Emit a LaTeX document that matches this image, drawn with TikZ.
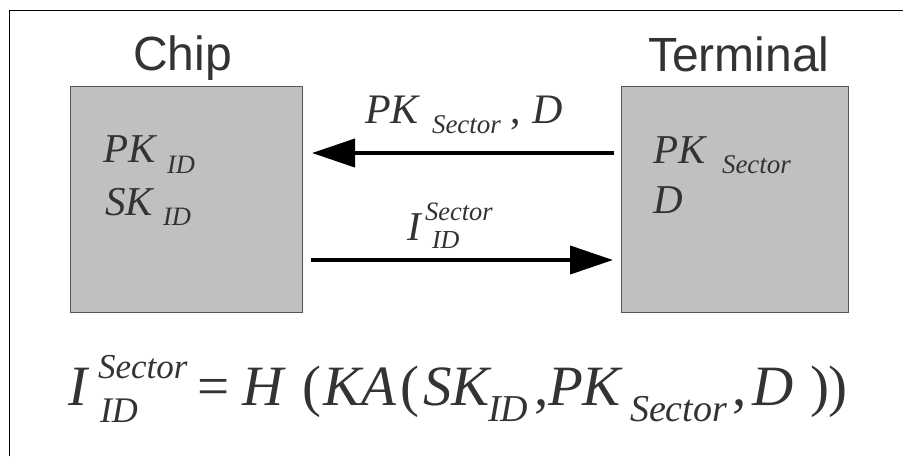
\documentclass[tikz,border=0pt]{standalone}
\usepackage{fontspec}
\setmainfont{Liberation Serif}
\newfontfamily\labelsans{Liberation Sans}
\usetikzlibrary{arrows.meta}
\definecolor{ink}{HTML}{333333}
\definecolor{boxfill}{HTML}{C0C0C0}
\definecolor{boxedge}{HTML}{555555}
\newcommand\myfs[1]{\fontsize{#1pt}{#1pt}\selectfont}
\begin{document}
\begin{tikzpicture}[x=1pt,y=-1pt,
  it/.style={anchor=base west, inner sep=0pt, outer sep=0pt, text=ink, font=\itshape\myfs{#1}},
  up/.style={anchor=base west, inner sep=0pt, outer sep=0pt, text=ink, font=\upshape\myfs{#1}},
  head/.style={anchor=base west, inner sep=0pt, outer sep=0pt, text=ink, font=\labelsans\myfs{48}},
  party/.style={draw=boxedge, fill=boxfill, line width=1pt, inner sep=0pt},
  msg/.style={line width=4pt, -{Triangle[length=43pt,width=28pt]}},
  frame/.style={line width=1pt, draw=black}]
\useasboundingbox (0,0) rectangle (903,456);
\draw[frame] (9,456) -- (9,10) -- (903,10);

% parties
\node[party, minimum width=232pt, minimum height=226pt] (chip) at (186,199) {};
\node[party, minimum width=227pt, minimum height=226pt] (term) at (734.5,199) {};
\node[head] (chiplbl) at (133,70) {Chip};
\node[head] (termlbl) at (648,71) {Terminal};

% chip content
\node[it=41] (cpk) at (103,162) {PK};
\node[it=26.5] (cpkid) at (167,173) {ID};
\node[it=41] (csk) at (105,215) {SK};
\node[it=26.5] (cskid) at (163,225) {ID};

% terminal content
\node[it=41] (tpk) at (653,163) {PK};
\node[it=27] (tpks) at (722,173) {Sector};
\node[it=41] (td) at (653,213) {D};

% messages
\coordinate (ustart) at (614,153);
\coordinate (uend) at (312,153);
\coordinate (lstart) at (311,260);
\coordinate (lend) at (613,260);
\draw[msg] (ustart) -- (uend);
\draw[msg] (lstart) -- (lend);

\node[it=42] (mpk) at (365,123) {PK};
\node[it=27] (mpks) at (432,133) {Sector};
\node[up=42] (mcomma) at (510,123) {,};
\node[it=42] (md) at (532,123) {D};

\node[it=41] (mi) at (407,240) {I};
\node[it=26.5] (mis) at (425,220) {Sector};
\node[it=26] (miid) at (432,248) {ID};

% formula
\node[it=57] (f1) at (68,405) {I};
\node[it=35] (f2) at (98,378) {Sector};
\node[it=36] (f3) at (100,422) {ID};
\node[up=57] (f4) at (197,405) {=};
\node[it=57] (f5) at (242,405) {H};
\node[up=57] (f6) at (302,405) {(};
\node[it=57] (f7) at (323,405) {KA};
\node[up=57] (f8) at (400,405) {(};
\node[it=57] (f9) at (423,405) {SK};
\node[it=38] (f10) at (488,421) {ID};
\node[up=57] (f11) at (534,405) {,};
\node[it=57] (f12) at (548,405) {PK};
\node[it=38] (f13) at (630,421) {Sector};
\node[up=57] (f14) at (732,405) {,};
\node[it=57] (f15) at (752,405) {D};
\node[up=57] (f16) at (810,405) {)};
\node[up=57] (f17) at (828,405) {)};
\end{tikzpicture}
\end{document}
